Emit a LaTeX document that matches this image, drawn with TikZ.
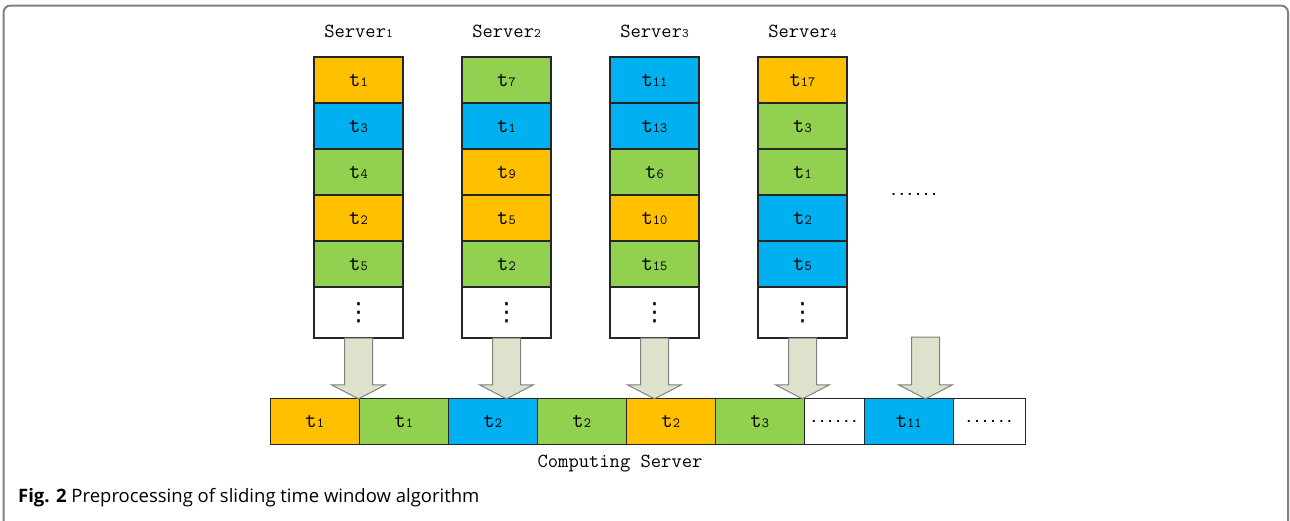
\documentclass[tikz,border=0pt]{standalone}
\usepackage{fontspec}
\usetikzlibrary{positioning,calc}

\newfontfamily\capfont{Open Sans}
\newfontfamily\dotfont{Liberation Mono}
\newfontfamily\symfont{DejaVu Sans}

\definecolor{torange}{HTML}{FFC000}
\definecolor{tblue}{HTML}{00B0F0}
\definecolor{tgreen}{HTML}{92D050}
\definecolor{arrowfill}{HTML}{DEE2CD}

% task t_i and server labels, index set small on the baseline
\newcommand\tn[1]{t{\fontsize{14}{14}\selectfont#1}}
\newcommand\sv[1]{Server{\fontsize{13}{13}\selectfont#1}}
\newcommand\dotrow{{\dotfont\bfseries\fontsize{13.5}{13.5}\selectfont......}}
\newcommand\vdotz{{\symfont\fontsize{25}{25}\selectfont ⋮}}

\tikzset{
  cell/.style={draw=black!85, line width=1.2, minimum width=89, minimum height=46,
    inner sep=0, outer sep=0, font=\fontsize{22}{22}\ttfamily},
  fatarrow/.style={draw=black!50, line width=1, fill=arrowfill},
  frame/.style={draw=black!50, line width=2, rounded corners=7},
}

% block arrow from a stack down to the line of the computing server
\newcommand\fatarrow[2]{%
  \draw[fatarrow] ($(#1)+(-14,0)$) -- ($(#1 |- #2)+(-14,-14)$)
    -- ($(#1 |- #2)+(-27,-14)$) -- (#1 |- #2) -- ($(#1 |- #2)+(27,-14)$)
    -- ($(#1 |- #2)+(14,-14)$) -- ($(#1)+(14,0)$) -- cycle;}

\begin{document}
\begin{tikzpicture}[x=1pt,y=-1pt]
  \useasboundingbox[fill=white] (0,0) rectangle (1290,520);
  \draw[frame] (3.5,540) -- (3.5,5.5) -- (1288,5.5) -- (1288,540);

  % the four servers
  \foreach \col/\cells in {
      1/{torange/1,tblue/3,tgreen/4,torange/2,tgreen/5},
      2/{tgreen/7,tblue/1,torange/9,torange/5,tgreen/2},
      3/{tblue/11,tblue/13,tgreen/6,torange/10,tgreen/15},
      4/{torange/17,tgreen/3,tgreen/1,tblue/2,tblue/5}} {
    \foreach \c/\t [count=\r] in \cells
      \node[cell, fill=\c, anchor=north] (s\col-\r) at ({210.5+148*\col},{11+46*\r}) {\tn{\t}};
    \node[cell, minimum height=51, anchor=north] (s\col-6) at (s\col-5.south) {\vdotz};
    \node[above=19pt of s\col-1, inner sep=0, font=\fontsize{20}{20}\ttfamily] (lab\col) {\sv{\col}};
  }
  \node (more) at (914,194) {\dotrow};

  % computing server
  \node[inner sep=0, minimum size=0] (b0) at (270,399) {};
  \foreach \c/\t/\w [count=\i] in {torange/\tn1/89, tgreen/\tn1/89, tblue/\tn2/89,
      tgreen/\tn2/89, torange/\tn2/89, tgreen/\tn3/89, white/\dotrow/60,
      tblue/\tn{11}/89, white/\dotrow/72} {
    \pgfmathtruncatemacro\prev{\i-1}
    \node[cell, fill=\c, minimum width=\w, anchor=north west] (b\i) at (b\prev.north east) {\t};
  }
  \node[anchor=base, inner sep=0, font=\fontsize{20}{20}\ttfamily] (comp) at (620,467) {Computing Server};

  \foreach \col in {1,...,4}
    \fatarrow{s\col-6.south}{b1.north};
  \coordinate (src5) at (925.5,337);
  \fatarrow{src5}{b1.north};

  \node[anchor=base west, inner sep=0, font=\capfont\fontsize{18.5}{18.5}\selectfont] (cap) at (18,502)
    {\textbf{Fig. 2} Preprocessing of sliding time window algorithm};
\end{tikzpicture}
\end{document}
